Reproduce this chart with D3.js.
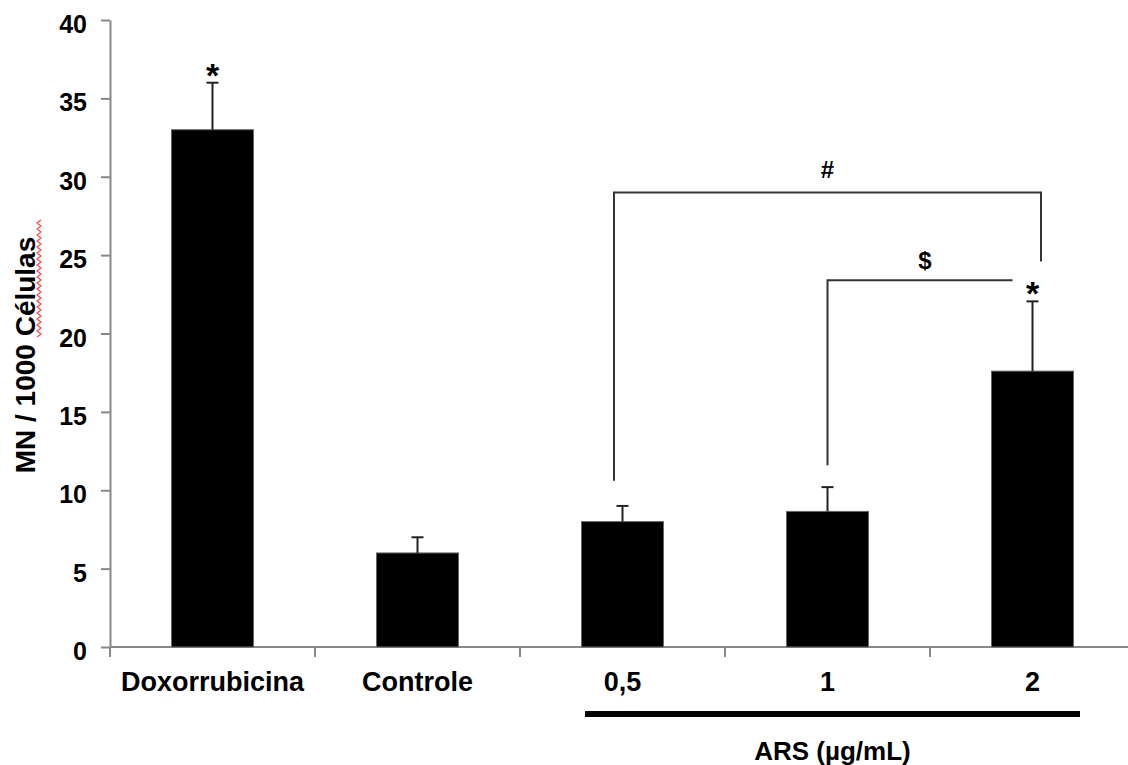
<!DOCTYPE html>
<html>
<head>
<meta charset="utf-8">
<script src="https://cdn.jsdelivr.net/npm/d3@7"></script>
<style>
  body { margin: 0; background: #fff; }
  text { font-family: "Liberation Sans", Arial, sans-serif; font-weight: bold; fill: #000; }
</style>
</head>
<body>
<div id="chart"></div>
<script>
const width = 1128,
      height = 765;

// data
const categories = ['Doxorrubicina', 'Controle', '0,5', '1', '2'];
const means = [33, 6, 8, 8.65, 17.6];
const errors = [3, 1, 1, 1.55, 4.45];
const yTicks = [0, 5, 10, 15, 20, 25, 30, 35, 40];
const starred = ['Doxorrubicina', '2'];

// comparison brackets: from group, to group, bar level, left foot, right foot, label
const bracketFrom = ['0,5', '1'];
const bracketTo = ['2', '2'];
const bracketLevel = [29.0, 23.4];
const bracketLeftFoot = [10.6, 11.6];
const bracketRightFoot = [24.6, null];
const bracketLabel = ['#', '$'];
const bracketLabelLevel = [30.45, 24.65];

const arsGroups = ['0,5', '1', '2'];
const arsTitle = 'ARS (µg/mL)';
const yTitle = 'MN / 1000 Células';

const svg = d3.select('#chart')
              .append('svg')
              .attr('width', width)
              .attr('height', height);

const x = d3.scaleBand()
            .domain(categories)
            .range([110, 1135])
            .padding(0);

const y = d3.scaleLinear()
            .domain([0, 40])
            .range([647, 20]);

const barW = x.bandwidth() * 0.4;
const cx = d => x(d) + x.bandwidth() / 2;

// y axis
const yAxis = d3.axisLeft(y)
                .tickValues(yTicks)
                .tickSize(9)
                .tickSizeOuter(0)
                .tickPadding(14);

const yAxisGroup = svg.append('g')
                      .attr('transform', 'translate(110, 0)')
                      .call(yAxis);

yAxisGroup.selectAll('path, line')
          .attr('stroke', '#888')
          .attr('stroke-width', 2);

yAxisGroup.selectAll('text')
          .attr('dy', '0.5em')
          .style('font-size', '25px');

// x axis line and band ticks
svg.append('line')
   .attr('x1', 110)
   .attr('x2', width)
   .attr('y1', y(0))
   .attr('y2', y(0))
   .attr('stroke', '#888')
   .attr('stroke-width', 2);

svg.selectAll('.band-tick')
   .data(categories)
   .enter()
   .append('line')
   .attr('class', 'band-tick')
   .attr('x1', d => x(d))
   .attr('x2', d => x(d))
   .attr('y1', y(0))
   .attr('y2', y(0) + 10)
   .attr('stroke', '#888')
   .attr('stroke-width', 2);

const xAxis = d3.axisBottom(x)
                .tickSize(0)
                .tickPadding(25);

const xAxisGroup = svg.append('g')
                      .attr('transform', `translate(0, ${y(0)})`)
                      .call(xAxis);

xAxisGroup.select('.domain').remove();
xAxisGroup.selectAll('text')
          .style('font-size', '27px');

// bars
svg.selectAll('.bar')
   .data(categories)
   .enter()
   .append('rect')
   .attr('class', 'bar')
   .attr('x', d => cx(d) - barW / 2)
   .attr('y', (d, i) => y(means[i]))
   .attr('width', barW)
   .attr('height', (d, i) => y(0) - y(means[i]))
   .attr('fill', '#000')
   .attr('stroke', '#666')
   .attr('stroke-width', 1);

// error bars (upper only)
svg.selectAll('.err')
   .data(categories)
   .enter()
   .append('line')
   .attr('x1', d => cx(d))
   .attr('x2', d => cx(d))
   .attr('y1', (d, i) => y(means[i]))
   .attr('y2', (d, i) => y(means[i] + errors[i]))
   .attr('stroke', '#222')
   .attr('stroke-width', 2);

svg.selectAll('.cap')
   .data(categories)
   .enter()
   .append('line')
   .attr('x1', d => cx(d) - 6)
   .attr('x2', d => cx(d) + 6)
   .attr('y1', (d, i) => y(means[i] + errors[i]))
   .attr('y2', (d, i) => y(means[i] + errors[i]))
   .attr('stroke', '#222')
   .attr('stroke-width', 2);

// stars
svg.selectAll('.star')
   .data(starred)
   .enter()
   .append('text')
   .attr('x', d => cx(d))
   .attr('y', d => {
     const i = categories.indexOf(d);
     return y(means[i] + errors[i]) - 16 + 20;
   })
   .attr('text-anchor', 'middle')
   .style('font-size', '34px')
   .text('*');

// brackets
bracketFrom.forEach(function(from, i) {
  const x1 = cx(from) + (i === 0 ? -8.5 : 0),
        x2 = cx(bracketTo[i]) + (i === 0 ? 8.5 : -20);
  let path = d3.path();
  path.moveTo(x1, y(bracketLeftFoot[i]));
  path.lineTo(x1, y(bracketLevel[i]));
  path.lineTo(x2, y(bracketLevel[i]));
  if (bracketRightFoot[i] !== null) path.lineTo(x2, y(bracketRightFoot[i]));

  svg.append('path')
     .attr('d', path.toString())
     .attr('fill', 'none')
     .attr('stroke', '#333')
     .attr('stroke-width', 2);

  svg.append('text')
     .attr('x', (x1 + x2) / 2 + (i === 1 ? 5 : 0))
     .attr('y', y(bracketLabelLevel[i]))
     .attr('text-anchor', 'middle')
     .attr('dy', '0.35em')
     .style('font-size', '24px')
     .text(bracketLabel[i]);
});

// ARS group underline and title
const arsLeft = x(arsGroups[0]) + 65,
      arsRight = x(arsGroups[arsGroups.length - 1]) + 150;

svg.append('line')
   .attr('x1', arsLeft)
   .attr('x2', arsRight)
   .attr('y1', 714)
   .attr('y2', 714)
   .attr('stroke', '#000')
   .attr('stroke-width', 6);

svg.append('text')
   .attr('x', (arsLeft + arsRight) / 2)
   .attr('y', 760)
   .attr('text-anchor', 'middle')
   .style('font-size', '26px')
   .text(arsTitle);

// y title
svg.append('text')
   .attr('transform', 'rotate(-90)')
   .attr('x', -355)
   .attr('y', 35)
   .attr('text-anchor', 'middle')
   .style('font-size', '28px')
   .text(yTitle);

// spell-check squiggle under "Células"
const squiggle = d3.range(220, 340, 3).map((v, i) => [i % 2 ? 37 : 41, v]);
svg.append('path')
   .attr('d', d3.line()(squiggle))
   .attr('fill', 'none')
   .attr('stroke', '#f44')
   .attr('stroke-width', 1.2);
</script>
</body>
</html>
